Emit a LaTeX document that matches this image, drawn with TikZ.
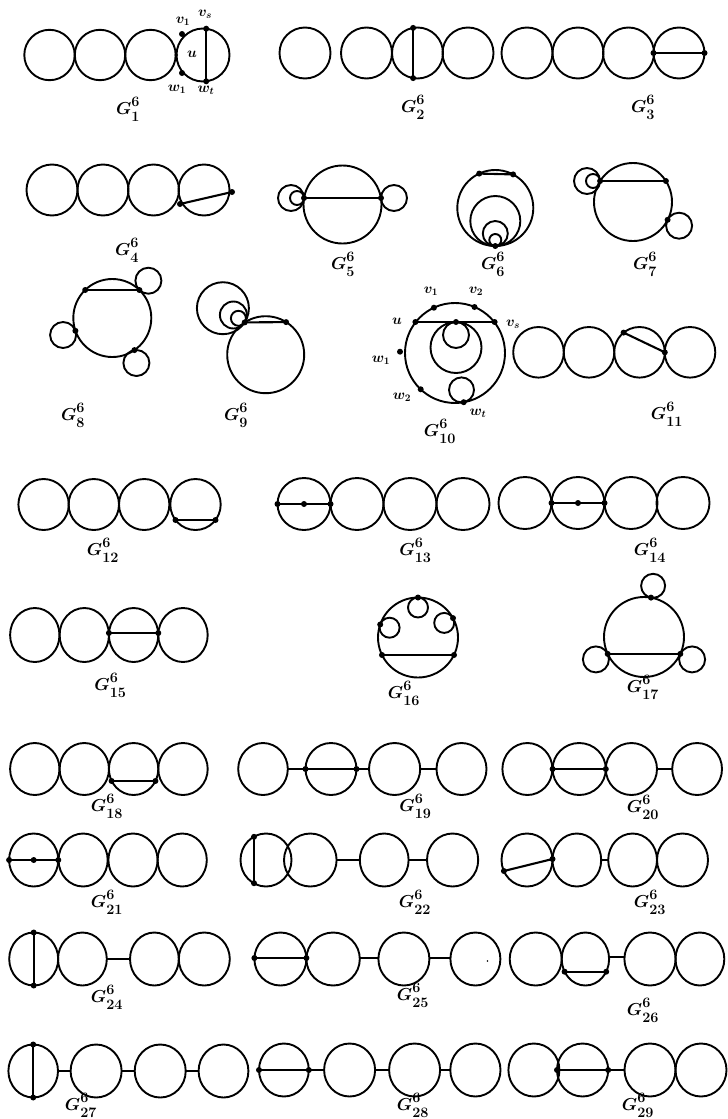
\documentclass[tikz,border=0pt]{standalone}
\usepackage{amsmath}
\newcommand\glab[3]{\node[glab] (#1) at (#2) {$G^{\raisebox{1.6pt}{$\scriptstyle 6$}}_{\raisebox{-1.6pt}{$\scriptstyle #3$}}$};}
\newcommand\dotat[1]{\fill (#1) circle[radius=3];}
\begin{document}
\begin{tikzpicture}[x=1pt,y=-1pt,
  ring/.style={line width=1.9pt},
  chord/.style={line width=2.1pt},
  glab/.style={font=\fontsize{19}{21}\selectfont\boldmath, inner sep=0pt},
  vlab/.style={font=\fontsize{14}{16}\selectfont\boldmath, inner sep=0pt}]
\useasboundingbox (0,0) rectangle (728,1119);
% ---------------- G1
\foreach \cx in {49.5,100,150.5} \draw[ring] (\cx,55) circle[radius=25.2];
\draw[ring] (203,55) circle[radius=26.5];
\coordinate (g1u) at (176.2,55);
\coordinate (g1vs) at (206.2,28.7);
\coordinate (g1wt) at (206.2,81.3);
\coordinate (g1v1) at (182,34);
\coordinate (g1w1) at (182,73);
\draw[chord] (g1vs) -- (g1wt);
\dotat{g1vs}\dotat{g1wt}\dotat{g1v1}\dotat{g1w1}
\fill (g1u) circle[radius=1.8];
\node[vlab] (l1v1) at (183,21) {$v_1$};
\node[vlab] (l1vs) at (205,14) {$v_s$};
\node[vlab] (l1u) at (192,54) {$u$};
\node[vlab] (l1w1) at (177,89) {$w_1$};
\node[vlab] (l1wt) at (206,90) {$w_t$};
\glab{G1}{128,109}{1}
% ---------------- G2
\foreach \cx in {305,366.5,417.5,468} \draw[ring] (\cx,53) circle[radius=25.5];
\coordinate (g2a) at (413.1,27.9);
\coordinate (g2b) at (413.1,78.1);
\draw[chord] (g2a) -- (g2b);
\dotat{g2a}\dotat{g2b}
\glab{G2}{413,107}{2}
% ---------------- G3
\foreach \cx in {527,578,628.5,679} \draw[ring] (\cx,53) circle[radius=25.5];
\coordinate (g3a) at (653.5,53);
\coordinate (g3b) at (704.5,53);
\draw[chord] (g3a) -- (g3b);
\dotat{g3a}\dotat{g3b}
\glab{G3}{643,107}{3}
% ---------------- G4
\foreach \cx in {52,103,153.5,204} \draw[ring] (\cx,190) circle[radius=25.5];
\coordinate (g4a) at (180,204);
\coordinate (g4b) at (232,192);
\draw[chord] (g4a) -- (g4b);
\dotat{g4a}\dotat{g4b}
\glab{G4}{127,250}{4}
% ---------------- G5
\draw[ring] (342.5,204.5) circle[radius=39];
\coordinate (g5a) at (304,198);
\coordinate (g5b) at (381,198);
\draw[chord] (g5a) -- (g5b);
\draw[ring] (291,198) circle[radius=13];
\draw[ring] (297,198) circle[radius=7];
\draw[ring] (394,198) circle[radius=13];
\dotat{g5a}\dotat{g5b}
\glab{G5}{343,264}{5}
% ---------------- G6
\draw[ring] (495.3,208) circle[radius=38];
\draw[ring] (495.3,221) circle[radius=25];
\draw[ring] (495.3,233.5) circle[radius=12.5];
\draw[ring] (495.3,240) circle[radius=6];
\coordinate (g6a) at (479.2,173.6);
\coordinate (g6b) at (513.1,174.4);
\coordinate (g6c) at (495.3,246);
\draw[chord] (g6a) -- (g6b);
\dotat{g6a}\dotat{g6b}\dotat{g6c}
\glab{G6}{493,264}{6}
% ---------------- G7
\draw[ring] (633,202) circle[radius=39];
\coordinate (g7a) at (600.1,181);
\coordinate (g7b) at (665.9,181);
\coordinate (g7c) at (667.6,219.8);
\draw[chord] (g7a) -- (g7b);
\draw[ring] (587,181) circle[radius=13];
\draw[ring] (593,181) circle[radius=7];
\draw[ring] (679.1,225.7) circle[radius=13];
\dotat{g7a}\dotat{g7b}\dotat{g7c}
\glab{G7}{645,264}{7}
% ---------------- G8
\draw[ring] (112.3,318) circle[radius=39];
\coordinate (g8a) at (85.2,290);
\coordinate (g8b) at (139.4,290);
\coordinate (g8c) at (75.4,330.8);
\coordinate (g8d) at (134.4,350.1);
\draw[chord] (g8a) -- (g8b);
\draw[ring] (148.4,280.7) circle[radius=13];
\draw[ring] (63.1,335) circle[radius=13];
\draw[ring] (136.4,363) circle[radius=13];
\dotat{g8a}\dotat{g8b}\dotat{g8c}\dotat{g8d}
\glab{G8}{73,415}{8}
% ---------------- G9
\draw[ring] (265.7,354.7) circle[radius=38.5];
\coordinate (g9a) at (244.7,322.4);
\coordinate (g9b) at (286.1,322.1);
\draw[chord] (g9a) -- (g9b);
\draw[ring] (222.9,308.2) circle[radius=26];
\draw[ring] (233.4,315) circle[radius=13.5];
\draw[ring] (238.4,318.3) circle[radius=7.5];
\dotat{g9a}\dotat{g9b}
\glab{G9}{236,415}{9}
% ---------------- G10
\draw[ring] (455,353) circle[radius=50];
\coordinate (g10u) at (415.4,322);
\coordinate (g10vs) at (494.6,322);
\coordinate (g10m) at (456,322);
\coordinate (g10v1) at (433.9,307.7);
\coordinate (g10v2) at (474.5,307);
\coordinate (g10w1) at (400,351.7);
\coordinate (g10w2) at (420.7,389.3);
\coordinate (g10wt) at (463.7,402.2);
\draw[chord] (g10u) -- (g10m) -- (g10vs);
\draw[ring] (456,347.5) circle[radius=25.5];
\draw[ring] (456,335) circle[radius=13];
\draw[ring] (461.5,389.9) circle[radius=12.5];
\dotat{g10u}\dotat{g10vs}\dotat{g10m}\dotat{g10v1}\dotat{g10v2}
\dotat{g10w1}\dotat{g10w2}\dotat{g10wt}
\node[vlab] (l10u) at (397,321) {$u$};
\node[vlab] (l10v1) at (431,291) {$v_1$};
\node[vlab] (l10v2) at (476,291) {$v_2$};
\node[vlab] (l10vs) at (513,324) {$v_s$};
\node[vlab] (l10w1) at (381,360) {$w_1$};
\node[vlab] (l10w2) at (402,397) {$w_2$};
\node[vlab] (l10wt) at (478,413) {$w_t$};
\glab{G10}{440,431}{10}
% ---------------- G11
\foreach \cx in {538.5,589,639.5,690} \draw[ring] (\cx,352.3) circle[radius=25.3];
\coordinate (g11a) at (623.6,332.6);
\coordinate (g11b) at (664.8,352.3);
\draw[chord] (g11a) -- (g11b);
\dotat{g11a}\dotat{g11b}
\glab{G11}{667,414}{11}
% ---------------- G12
\foreach \cx in {43.6,93.8,144.2,195.5} \draw[ring] (\cx,504.5) ellipse[x radius=25.2,y radius=25.5];
\coordinate (g12a) at (175.5,520);
\coordinate (g12b) at (215.5,520);
\draw[chord] (g12a) -- (g12b);
\dotat{g12a}\dotat{g12b}
\glab{G12}{103,550}{12}
% ---------------- G13
\foreach \cx in {304,357,410,463} \draw[ring] (\cx,504) ellipse[x radius=26.5,y radius=26];
\coordinate (g13a) at (277.5,504);
\coordinate (g13m) at (304,504);
\coordinate (g13b) at (330.5,504);
\draw[chord] (g13a) -- (g13m) -- (g13b);
\dotat{g13a}\dotat{g13m}\dotat{g13b}
\glab{G13}{415.5,550}{13}
% ---------------- G14
\foreach \cx in {525,578,631,683} \draw[ring] (\cx,503) ellipse[x radius=26.5,y radius=26];
\coordinate (g14a) at (551.5,503);
\coordinate (g14m) at (578,503);
\coordinate (g14b) at (604.5,503);
\draw[chord] (g14a) -- (g14m) -- (g14b);
\dotat{g14a}\dotat{g14m}\dotat{g14b}
\glab{G14}{650,550}{14}
% ---------------- G15
\foreach \cx in {34.8,84.3,133.6,183} \draw[ring] (\cx,635) ellipse[x radius=24.7,y radius=27];
\coordinate (g15a) at (108.9,633);
\coordinate (g15b) at (158.3,633);
\draw[chord] (g15a) -- (g15b);
\dotat{g15a}\dotat{g15b}
\glab{G15}{110.5,685}{15}
% ---------------- G16
\draw[ring] (418,637.5) circle[radius=40];
\coordinate (g16t) at (418,597.5);
\coordinate (g16l) at (380.2,624.5);
\coordinate (g16r) at (453,618.1);
\coordinate (g16a) at (382,655);
\coordinate (g16b) at (454,655);
\draw[chord] (g16a) -- (g16b);
\draw[ring] (418,607.5) circle[radius=10];
\draw[ring] (389.6,627.7) circle[radius=10];
\draw[ring] (444.2,622.9) circle[radius=10];
\dotat{g16t}\dotat{g16l}\dotat{g16r}\dotat{g16a}\dotat{g16b}
\glab{G16}{404,693}{16}
% ---------------- G17
\draw[ring] (644,637) circle[radius=40];
\coordinate (g17t) at (651,597.6);
\coordinate (g17l) at (607.7,653.9);
\coordinate (g17r) at (680.3,653.9);
\draw[chord] (g17l) -- (g17r);
\draw[ring] (653.1,585.8) circle[radius=12];
\draw[ring] (595.9,659.4) circle[radius=13];
\draw[ring] (692.1,659.4) circle[radius=13];
\dotat{g17t}\dotat{g17l}\dotat{g17r}
\glab{G17}{643,687}{17}
% ---------------- G18
\foreach \cx in {34.8,84.3,133.6,183} \draw[ring] (\cx,769) ellipse[x radius=24.7,y radius=26];
\coordinate (g18a) at (111.6,781);
\coordinate (g18b) at (155.4,781);
\draw[chord] (g18a) -- (g18b);
\dotat{g18a}\dotat{g18b}
\glab{G18}{107,806}{18}
% ---------------- G19
\draw[ring] (263,769) ellipse[x radius=24.8,y radius=26];
\draw[ring] (331,769) ellipse[x radius=25.5,y radius=26];
\draw[ring] (394.6,769) ellipse[x radius=25.6,y radius=26];
\draw[ring] (461.5,769) ellipse[x radius=25,y radius=26];
\coordinate (g19p) at (287.8,769);
\coordinate (g19a) at (305.5,769);
\coordinate (g19b) at (356.5,769);
\coordinate (g19q) at (369,769);
\coordinate (g19r) at (420.2,769);
\coordinate (g19s) at (436.5,769);
\draw[ring] (g19p) -- (g19a);
\draw[chord] (g19a) -- (g19b);
\draw[ring] (g19b) -- (g19q);
\draw[ring] (g19r) -- (g19s);
\dotat{g19a}\dotat{g19b}
\glab{G19}{415.5,806}{19}
% ---------------- G20
\draw[ring] (527.4,769) ellipse[x radius=25,y radius=26];
\draw[ring] (579.2,769) ellipse[x radius=26.6,y radius=26];
\draw[ring] (631.4,769) ellipse[x radius=25.6,y radius=26];
\draw[ring] (697.1,769) ellipse[x radius=24.9,y radius=26];
\coordinate (g20a) at (552.6,769);
\coordinate (g20b) at (605.8,769);
\coordinate (g20p) at (657,769);
\coordinate (g20q) at (672.2,769);
\draw[chord] (g20a) -- (g20b);
\draw[ring] (g20p) -- (g20q);
\dotat{g20a}\dotat{g20b}
\glab{G20}{643,807}{20}
% ---------------- G21
\foreach \cx in {33.7,83.1,133,182.2} \draw[ring] (\cx,860) ellipse[x radius=24.6,y radius=26.5];
\coordinate (g21a) at (9.1,860);
\coordinate (g21m) at (33.7,860);
\coordinate (g21b) at (58.3,860);
\draw[chord] (g21a) -- (g21m) -- (g21b);
\dotat{g21a}\dotat{g21m}\dotat{g21b}
\glab{G21}{107,902}{21}
% ---------------- G22
\draw[ring] (266,860) ellipse[x radius=25.5,y radius=26.5];
\draw[ring] (310.3,860) ellipse[x radius=26.3,y radius=26.5];
\draw[ring] (384.2,860) ellipse[x radius=24.4,y radius=26.5];
\draw[ring] (452.6,860) ellipse[x radius=25.6,y radius=26.5];
\coordinate (g22a) at (254,836.8);
\coordinate (g22b) at (254,883.2);
\coordinate (g22p) at (336.6,860);
\coordinate (g22q) at (359.8,860);
\coordinate (g22r) at (408.6,860);
\coordinate (g22s) at (427,860);
\draw[chord] (g22a) -- (g22b);
\draw[ring] (g22p) -- (g22q);
\draw[ring] (g22r) -- (g22s);
\dotat{g22a}\dotat{g22b}
\glab{G22}{415,902}{22}
% ---------------- G23
\draw[ring] (527,860) ellipse[x radius=25.5,y radius=26.5];
\draw[ring] (576.8,860) ellipse[x radius=24.4,y radius=26.5];
\draw[ring] (632.6,860) ellipse[x radius=24.4,y radius=26.5];
\draw[ring] (682.5,860) ellipse[x radius=25.5,y radius=26.5];
\coordinate (g23a) at (503.9,871);
\coordinate (g23b) at (552.5,859);
\coordinate (g23p) at (601.2,860);
\coordinate (g23q) at (608.2,860);
\draw[chord] (g23a) -- (g23b);
\draw[ring] (g23p) -- (g23q);
\dotat{g23a}\dotat{g23b}
\glab{G23}{650,902}{23}
% ---------------- G24
\draw[ring] (33.7,959) ellipse[x radius=24.5,y radius=26.5];
\draw[ring] (82.4,959) ellipse[x radius=24.4,y radius=26.5];
\draw[ring] (154.4,959) ellipse[x radius=24.4,y radius=26.5];
\draw[ring] (204.3,959) ellipse[x radius=25.5,y radius=26.5];
\coordinate (g24a) at (33.7,932.5);
\coordinate (g24b) at (33.7,985.5);
\coordinate (g24p) at (106.8,959);
\coordinate (g24q) at (130,959);
\draw[chord] (g24a) -- (g24b);
\draw[ring] (g24p) -- (g24q);
\dotat{g24a}\dotat{g24b}
\glab{G24}{107,997}{24}
% ---------------- G25
\draw[ring] (280.4,959) ellipse[x radius=26,y radius=26.5];
\draw[ring] (333.1,959) ellipse[x radius=26.7,y radius=26.5];
\draw[ring] (403.9,959) ellipse[x radius=25.5,y radius=26.5];
\draw[ring] (475.4,959) ellipse[x radius=25,y radius=26.5];
\coordinate (g25a) at (254.4,958);
\coordinate (g25b) at (306.4,958);
\coordinate (g25p) at (359.8,958);
\coordinate (g25q) at (378.4,958);
\coordinate (g25r) at (429.4,958);
\coordinate (g25s) at (450.4,958);
\draw[chord] (g25a) -- (g25b);
\draw[ring] (g25p) -- (g25q);
\draw[ring] (g25r) -- (g25s);
\dotat{g25a}\dotat{g25b}
\fill (487.5,961) circle[radius=0.9];
\glab{G25}{413,995}{25}
% ---------------- G26
\draw[ring] (535.7,959) ellipse[x radius=26,y radius=26.5];
\draw[ring] (585.4,959) ellipse[x radius=23.7,y radius=26.5];
\draw[ring] (650,959) ellipse[x radius=25.6,y radius=26.5];
\draw[ring] (699.9,959) ellipse[x radius=24.4,y radius=26.5];
\coordinate (g26a) at (564.6,971.7);
\coordinate (g26b) at (606.2,971.7);
\coordinate (g26p) at (609.1,957);
\coordinate (g26q) at (624.4,957);
\draw[chord] (g26a) -- (g26b);
\draw[ring] (g26p) -- (g26q);
\dotat{g26a}\dotat{g26b}
\glab{G26}{643,1010}{26}
% ---------------- G27
\draw[ring] (33.2,1071) ellipse[x radius=24.8,y radius=26.5];
\draw[ring] (96.1,1071) ellipse[x radius=25.5,y radius=26.5];
\draw[ring] (160.2,1071) ellipse[x radius=25.5,y radius=26.5];
\draw[ring] (223.5,1071) ellipse[x radius=24.9,y radius=26.5];
\coordinate (g27a) at (33.2,1044.5);
\coordinate (g27b) at (33.2,1097.5);
\coordinate (g27p) at (58,1071);
\coordinate (g27q) at (70.6,1071);
\coordinate (g27r) at (121.6,1071);
\coordinate (g27s) at (134.7,1071);
\coordinate (g27t) at (185.7,1071);
\coordinate (g27w) at (198.6,1071);
\draw[chord] (g27a) -- (g27b);
\draw[ring] (g27p) -- (g27q);
\draw[ring] (g27r) -- (g27s);
\draw[ring] (g27t) -- (g27w);
\dotat{g27a}\dotat{g27b}
\glab{G27}{81,1105}{27}
% ---------------- G28
\draw[ring] (283.9,1070) ellipse[x radius=24.9,y radius=26.5];
\draw[ring] (349.6,1070) ellipse[x radius=25.5,y radius=26.5];
\draw[ring] (414.6,1070) ellipse[x radius=25.5,y radius=26.5];
\draw[ring] (475.4,1070) ellipse[x radius=25.1,y radius=26.5];
\coordinate (g28a) at (259,1070);
\coordinate (g28b) at (308.8,1070);
\coordinate (g28q) at (324.1,1070);
\coordinate (g28r) at (375.1,1070);
\coordinate (g28s) at (389.1,1070);
\coordinate (g28t) at (440.1,1070);
\coordinate (g28w) at (450.3,1070);
\draw[chord] (g28a) -- (g28b);
\draw[ring] (g28b) -- (g28q);
\draw[ring] (g28r) -- (g28s);
\draw[ring] (g28t) -- (g28w);
\dotat{g28a}\dotat{g28b}
\glab{G28}{413,1105}{28}
% ---------------- G29
\draw[ring] (533.9,1070) ellipse[x radius=25.5,y radius=26.5];
\draw[ring] (582.6,1070) ellipse[x radius=25.6,y radius=26.5];
\draw[ring] (650,1070) ellipse[x radius=25.5,y radius=26.5];
\draw[ring] (701,1070) ellipse[x radius=25.5,y radius=26.5];
\coordinate (g29a) at (557,1070);
\coordinate (g29b) at (608.2,1070);
\coordinate (g29q) at (624.5,1070);
\draw[chord] (g29a) -- (g29b);
\draw[ring] (g29b) -- (g29q);
\dotat{g29a}\dotat{g29b}
\glab{G29}{638,1105}{29}
\end{tikzpicture}
\end{document}
